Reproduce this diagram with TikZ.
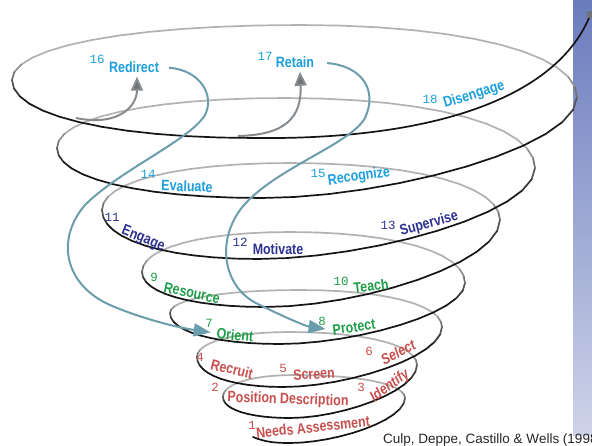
\documentclass[tikz,border=0pt]{standalone}
\usepackage{fontspec}
\setmainfont{Liberation Sans}
\newfontfamily\labfont[FakeStretch=0.83]{Liberation Sans}
\newfontfamily\numfont{Liberation Mono}
\usetikzlibrary{calc,arrows.meta}
\pgfdeclarelayer{bg}
\pgfdeclarelayer{back}
\pgfsetlayers{bg,back,main}
\definecolor{cred}{HTML}{C8504E}
\definecolor{cgreen}{HTML}{1E9E48}
\definecolor{cnavy}{HTML}{2E3392}
\definecolor{ccyan}{HTML}{1C9FDB}
\definecolor{cteal}{HTML}{6C9DAD}
\definecolor{cgline}{HTML}{868B8F}
\definecolor{cghead}{HTML}{6E7377}
\definecolor{sdark}{HTML}{151515}
\definecolor{slight}{HTML}{B2B2B2}
\definecolor{paneltop}{HTML}{6B7CBE}
\definecolor{panelbot}{HTML}{CDD2E8}
\tikzset{
  spiral/.style={line width=1.7pt, line cap=round},
  lab/.style={font=\labfont\bfseries\fontsize{15}{15}\selectfont, inner sep=0pt},
  ilab/.style={font=\labfont\bfseries\itshape\fontsize{15}{15}\selectfont, inner sep=0pt},
  num/.style={font=\numfont\fontsize{12.5}{12.5}\selectfont, inner sep=0pt},
  tealline/.style={draw=cteal, line width=2pt, -{Triangle[length=17pt,width=13pt,fill=cteal]}},
  grayline/.style={draw=cgline, line width=2pt, -{Triangle[length=14pt,width=12pt,fill=cghead]}}
}
\begin{document}
\begin{tikzpicture}[x=1pt,y=-1pt,line join=round]
\useasboundingbox (0,0) rectangle (592,445);
\begin{pgfonlayer}{bg}
\fill[white] (0,0) rectangle (592,445);
\foreach \k in {0,...,86}{
  \pgfmathsetmacro\p{100*\k/86}
  \fill[panelbot!\p!paneltop] (573,\k*5) rectangle (592,\k*5+5.6);
}
\end{pgfonlayer}

% spiral key points (image coordinates)
\coordinate (P0) at (290,443);
\coordinate (P1) at (405,398);
\coordinate (P2) at (295,375);
\coordinate (P3) at (223,397);
\coordinate (P4) at (290,418);
\coordinate (P5) at (417,365);
\coordinate (P6) at (290,332);
\coordinate (P7) at (197,357);
\coordinate (P8) at (283,387);
\coordinate (P9) at (442,327);
\coordinate (P10) at (300,290);
\coordinate (P11) at (170,313);
\coordinate (P12) at (280,344);
\coordinate (P13) at (465,283);
\coordinate (P14) at (290,232);
\coordinate (P15) at (142,272);
\coordinate (P16) at (265,307);
\coordinate (P17) at (500,220);
\coordinate (P18) at (290,163);
\coordinate (P19) at (102,210);
\coordinate (P20) at (258,259);
\coordinate (P21) at (535,168);
\coordinate (P22) at (285,98);
\coordinate (P23) at (57,148);
\coordinate (P24) at (262,198);
\coordinate (P25) at (577,97);
\coordinate (P26) at (300,25);
\coordinate (P27) at (12,80);
\coordinate (P28) at (255,138);
\coordinate (start) at (253,437);
\coordinate (exit) at (591,13);

\foreach \i in {0,...,27}{
  \pgfmathtruncatemacro\j{\i+1}
  \pgfmathtruncatemacro\m{mod(\i,4)}
  \ifnum\m=0
    \coordinate (C1) at ($(P\i)!0.4!(P\j|-P\i)$);
    \coordinate (C2) at ($(P\j)!0.5!(P\j|-P\i)$);
  \else
    \ifnum\m=2
      \coordinate (C1) at ($(P\i)!0.6!(P\j|-P\i)$);
      \coordinate (C2) at ($(P\j)!0.6!(P\j|-P\i)$);
    \else
      \coordinate (C1) at ($(P\i)!0.6!(P\i|-P\j)$);
      \coordinate (C2) at ($(P\j)!0.6!(P\i|-P\j)$);
    \fi
  \fi
  \path (P\i) .. controls (C1) and (C2) .. (P\j)
    coordinate[pos=0] (S0) coordinate[pos=0.0833] (S1) coordinate[pos=0.1667] (S2)
    coordinate[pos=0.25] (S3) coordinate[pos=0.3333] (S4) coordinate[pos=0.4167] (S5)
    coordinate[pos=0.5] (S6) coordinate[pos=0.5833] (S7) coordinate[pos=0.6667] (S8)
    coordinate[pos=0.75] (S9) coordinate[pos=0.8333] (S10) coordinate[pos=0.9167] (S11)
    coordinate[pos=1] (S12);
  \foreach \s in {0,...,11}{
    \pgfmathtruncatemacro\t{\s+1}
    \pgfmathsetmacro\f{max(0,min(100,50+150*sin(90*(\i+1)+7.5*(\s+0.5))))}
    \ifdim\f pt<60pt
      \begin{pgfonlayer}{back}
        \draw[spiral,draw=sdark!\f!slight] (S\s) -- (S\t);
      \end{pgfonlayer}
    \else
      \draw[spiral,draw=sdark!\f!slight] (S\s) -- (S\t);
    \fi
  }
}
\draw[spiral,draw=sdark] (start) .. controls (265,442) and (275,443) .. (P0);
\draw[spiral,draw=sdark] (P28) .. controls (440,140) and (560,95) .. (exit);
\fill[cghead] (587,11) rectangle (592,18);

% labels
\node[num,text=cred] (n1) at (252,425) {1};
\node[lab,text=cred,rotate=6] (w1) at (313,427) {Needs Assessment};
\node[num,text=cred] (n2) at (215,387) {2};
\node[lab,text=cred,rotate=-2] (w2) at (288,400) {Position Description};
\node[num,text=cred] (n3) at (361,387) {3};
\node[ilab,text=cred,rotate=36] (w3) at (390,386) {Identify};
\node[num,text=cred] (n4) at (200,357) {4};
\node[lab,text=cred,rotate=-14] (w4) at (232,369) {Recruit};
\node[num,text=cred] (n5) at (283,368) {5};
\node[lab,text=cred,rotate=3] (w5) at (314,374) {Screen};
\node[num,text=cred] (n6) at (369,351) {6};
\node[ilab,text=cred,rotate=28] (w6) at (398,352) {Select};
\node[num,text=cgreen] (n7) at (209,323) {7};
\node[lab,text=cgreen,rotate=-5] (w7) at (235,335) {Orient};
\node[num,text=cgreen] (n8) at (322,321) {8};
\node[lab,text=cgreen,rotate=8] (w8) at (354,327) {Protect};
\node[num,text=cgreen] (n9) at (154,277) {9};
\node[lab,text=cgreen,rotate=-12] (w9) at (192,293) {Resource};
\node[num,text=cgreen] (n10) at (341,281) {10};
\node[lab,text=cgreen,rotate=7] (w10) at (371,286) {Teach};
\node[num,text=cnavy] (n11) at (112,217) {11};
\node[lab,text=cnavy,rotate=-22] (w11) at (143,239) {Engage};
\node[num,text=cnavy] (n12) at (240,242) {12};
\node[lab,text=cnavy] (w12) at (278,249) {Motivate};
\node[num,text=cnavy] (n13) at (388,225) {13};
\node[lab,text=cnavy,rotate=15] (w13) at (429,224) {Supervise};
\node[num,text=ccyan] (n14) at (148,174) {14};
\node[lab,text=ccyan,rotate=-2] (w14) at (187,186) {Evaluate};
\node[num,text=ccyan] (n15) at (318,173) {15};
\node[lab,text=ccyan,rotate=8] (w15) at (359,177) {Recognize};
\node[num,text=ccyan] (n16) at (97,59) {16};
\node[lab,text=ccyan] (w16) at (134,67) {Redirect};
\node[num,text=ccyan] (n17) at (265,56) {17};
\node[lab,text=ccyan] (w17) at (295,62) {Retain};
\node[num,text=ccyan] (n18) at (430,99) {18};
\node[lab,text=ccyan,rotate=17] (w18) at (474,95) {Disengage};
\node[anchor=base west,inner sep=0pt,text=black!85,font=\fontsize{13.5}{14}\selectfont] (credit) at (383,443.5) {Culp, Deppe, Castillo \& Wells (1998)};

% connectors
\draw[tealline,shorten <=10pt,shorten >=6pt] (w16.east) .. controls (200,70) and (215,95) .. (205,115)
  .. controls (190,140) and (120,170) .. (85,205)
  .. controls (55,240) and (65,285) .. (110,305)
  .. controls (140,318) and (175,327) .. (w7.west);
\draw[tealline,shorten <=13pt,shorten >=7pt] (w17.east) .. controls (362,66) and (378,90) .. (365,118)
  .. controls (350,145) and (270,170) .. (240,210)
  .. controls (215,245) and (225,290) .. (260,305)
  .. controls (280,315) and (305,326) .. (w8.west);
\coordinate (g1) at (76,118);
\coordinate (g2) at (238,136);
\draw[grayline] (g1) .. controls (120,127) and (137,105) .. ($(w16.south)+(3,4)$);
\draw[grayline] (g2) .. controls (285,135) and (302,118) .. ($(w17.south)+(5,4)$);
\end{tikzpicture}
\end{document}
